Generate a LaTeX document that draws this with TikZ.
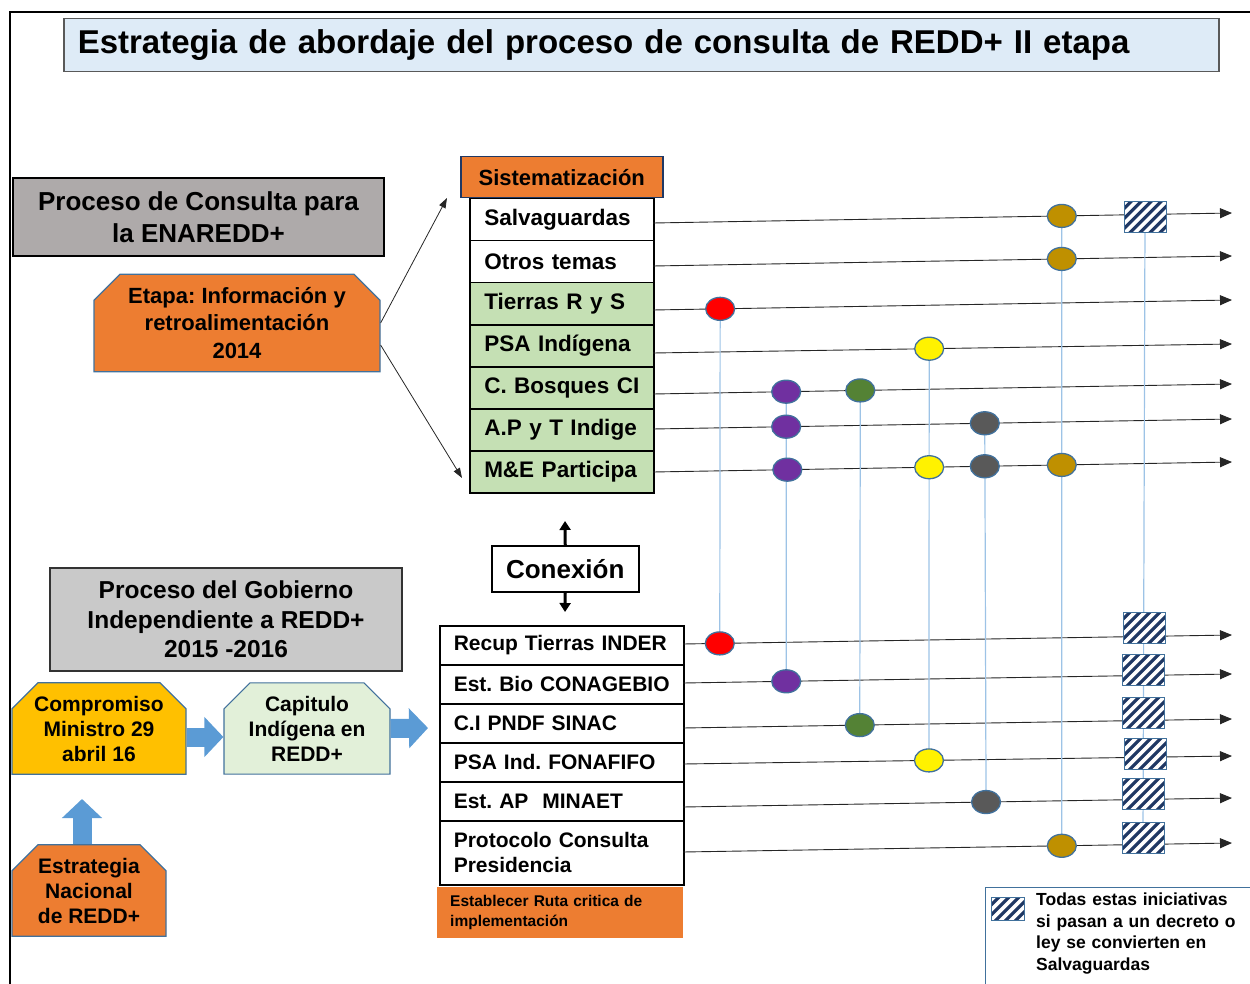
\documentclass[tikz,border=0pt]{standalone}
\usepackage{fontspec}
\setmainfont{Liberation Sans}
\usetikzlibrary{arrows.meta,shapes.geometric,shapes.misc,calc}
\definecolor{orng}{HTML}{ED7D31}
\definecolor{boxblue}{HTML}{41719C}
\definecolor{arrblue}{HTML}{5B9BD5}
\definecolor{vblue}{HTML}{9DC3E6}
\definecolor{navyh}{HTML}{203864}
\definecolor{titlefill}{HTML}{DEEBF7}
\definecolor{grayA}{HTML}{AEAAAA}
\definecolor{grayB}{HTML}{C9C9C9}
\definecolor{greenrow}{HTML}{C5E0B4}
\definecolor{lgreen}{HTML}{E2F0D9}
\definecolor{goldy}{HTML}{FFC000}
\definecolor{dpurple}{HTML}{7030A0}
\definecolor{dgreen}{HTML}{548235}
\definecolor{dgray}{HTML}{595959}
\definecolor{dgold}{HTML}{BF9000}
\frenchspacing
\newcommand\myfs[2]{\fontsize{#1}{#2}\selectfont\bfseries}
\tikzset{
  trow/.style={draw=black, line width=1.5pt, anchor=north west, minimum width=184pt, minimum height=42pt,
    text width=176pt, inner xsep=4pt, inner ysep=0pt, align=left, font={\myfs{22.5}{26}},
    execute at begin node={\hspace*{10.5pt}}},
  brow/.style={draw=black, line width=1.5pt, fill=white, anchor=north west, minimum width=244pt, minimum height=39pt,
    text width=216pt, inner xsep=14pt, inner ysep=0pt, align=left, font={\myfs{21}{25}}},
  snip/.style={chamfered rectangle, chamfered rectangle corners={north west,north east},
    chamfered rectangle xsep=13pt, chamfered rectangle ysep=13pt, draw=boxblue, line width=1.2pt,
    anchor=center, inner sep=0pt, align=center},
  hline/.style={draw=black!85, line width=0.9pt, -{Triangle[length=12pt,width=10pt]}},
  vline/.style={draw=vblue, line width=1.2pt},
  dot/.style={ellipse, draw=boxblue, line width=1.3pt, minimum width=29pt, minimum height=23pt, inner sep=0pt},
  hatch/.style={draw=boxblue, line width=1pt, fill=white, minimum width=42pt, minimum height=31pt, inner sep=0pt,
    path picture={\foreach \k in {-5,...,5}
      \draw[navyh, line width=3.2pt] ($(path picture bounding box.center)+(\k*10-25,25)$) -- ++(50,-50);}},
  barrow/.style={draw=arrblue, line width=19pt, -{Triangle[length=19pt,width=39pt]}},
  carrow/.style={draw=black, line width=3pt, -{Triangle[length=9pt,width=11pt]}},
  tarrow/.style={draw=black!85, line width=0.8pt, -{Triangle[length=10pt,width=7pt]}},
}
\begin{document}
\begin{tikzpicture}[x=1pt,y=-1pt]
\useasboundingbox (0,0) rectangle (1250,984);
% frame
\draw[line width=2pt] (10,984) -- (10,12) -- (1250,12);
% title
\node[draw=dgray, line width=1.5pt, fill=titlefill, anchor=north west, minimum width=1155pt, minimum height=53pt,
  text width=1127pt, inner xsep=14pt, align=left, font={\myfs{33}{37}}] (title) at (63,18)
  {Estrategia de abordaje del proceso de consulta de REDD+ II etapa};
% left upper
\node[draw=black, line width=2pt, fill=grayA, anchor=north west, minimum width=371pt, minimum height=78pt,
  inner sep=0pt, align=center, font={\myfs{26}{32}}] (pcons) at (12,177) {Proceso de Consulta para\\la ENAREDD+};
\node[snip, fill=orng, minimum width=286pt, minimum height=96pt, font={\myfs{22}{27.5}}] (etapa) at (237,323)
  {Etapa: Información y\\retroalimentación\\2014};
% sistematizacion
\node[draw=navyh, line width=1.5pt, fill=orng, anchor=north west, minimum width=202pt, minimum height=41pt,
  inner sep=0pt, font={\myfs{22}{26}}] (sist) at (460,156) {Sistematización};
\node[trow, fill=white] (r1) at (469,198) {Salvaguardas};
\node[trow, fill=white] (r2) at (469,240) {Otros temas};
\node[trow, fill=greenrow] (r3) at (469,282) {Tierras R y S};
\node[trow, fill=greenrow] (r4) at (469,324) {PSA Indígena};
\node[trow, fill=greenrow] (r5) at (469,366) {C. Bosques CI};
\node[trow, fill=greenrow] (r6) at (469,408) {A.P y T Indige};
\node[trow, fill=greenrow] (r7) at (469,450) {M\&E Participa};
% etapa arrows
\coordinate (ea1) at (447,198);
\coordinate (ea2) at (462,478);
\draw[tarrow] (etapa.east) -- (ea1);
\draw[tarrow] ([yshift=-22pt]etapa.east) -- (ea2);
% conexion
\node[draw=black, line width=1.5pt, fill=white, anchor=north west, minimum width=147pt, minimum height=46pt,
  inner sep=0pt, font={\myfs{26}{30}}] (conex) at (491,545) {Conexión};
\coordinate (cup) at (565,521);
\coordinate (cdn) at (565,612);
\draw[carrow] (conex.north) -- (cup);
\draw[carrow] (conex.south) -- (cdn);
% bottom rows
\node[brow] (b1) at (439,625) {Recup Tierras INDER};
\node[brow] (b2) at (439,664) {Est. Bio CONAGEBIO};
\node[brow] (b3) at (439,703) {C.I PNDF SINAC};
\node[brow] (b4) at (439,742) {PSA Ind. FONAFIFO};
\node[brow] (b5) at (439,781) {Est. AP\ \ MINAET};
\node[brow, minimum height=64pt] (b6) at (439,820) {Protocolo Consulta\\Presidencia};
\node[fill=orng, anchor=north west, minimum width=246pt, minimum height=51pt, text width=220pt, inner xsep=13pt,
  inner ysep=0pt, align=left, font={\myfs{15.5}{20}}] (ruta) at (437,887) {Establecer Ruta critica de\\implementación};
% lower left
\node[draw=black!80, line width=2pt, fill=grayB, anchor=north west, minimum width=352pt, minimum height=103pt,
  inner sep=0pt, align=center, font={\myfs{24.5}{29.5}}] (pgob) at (49,567)
  {Proceso del Gobierno\\Independiente a REDD+\\2015 -2016};
\node[snip, fill=goldy, minimum width=174pt, minimum height=89pt, font={\myfs{21}{25}}] (comp) at (99,728.5)
  {Compromiso\\Ministro 29\\abril 16};
\node[snip, fill=lgreen, minimum width=166pt, minimum height=89pt, font={\myfs{21}{25}}] (cap) at (307,728.5)
  {Capitulo\\Indígena en\\REDD+};
\node[snip, fill=orng, minimum width=154pt, minimum height=89pt, font={\myfs{21}{25}}] (estr) at (89,890.5)
  {Estrategia\\Nacional\\de REDD+};
\coordinate (capend) at (428,728);
\coordinate (uptip) at (82,799);
\draw[barrow] ([yshift=-8.5pt]comp.east) -- ([yshift=-8.5pt]cap.west);
\draw[barrow] (cap.east) -- (capend);
\draw[barrow] ([xshift=-7pt]estr.north) -- (uptip);
% horizontal lines, top
\coordinate (s1) at (653,223); \coordinate (e1) at (1232,213);
\coordinate (s2) at (653,266); \coordinate (e2) at (1232,256);
\coordinate (s3) at (653,310); \coordinate (e3) at (1232,300);
\coordinate (s4) at (653,353); \coordinate (e4) at (1232,344);
\coordinate (s5) at (653,394); \coordinate (e5) at (1232,384);
\coordinate (s6) at (653,429); \coordinate (e6) at (1232,419);
\coordinate (s7) at (653,472); \coordinate (e7) at (1232,462);
\draw[hline] (s1) -- (e1) coordinate[pos=.706] (c1g);
\draw[hline] (s2) -- (e2) coordinate[pos=.706] (c2g);
\draw[hline] (s3) -- (e3) coordinate[pos=.116] (c3r);
\draw[hline] (s4) -- (e4) coordinate[pos=.477] (c4y);
\draw[hline] (s5) -- (e5) coordinate[pos=.230] (c5p) coordinate[pos=.358] (c5g);
\draw[hline] (s6) -- (e6) coordinate[pos=.230] (c6p) coordinate[pos=.573] (c6k);
\draw[hline] (s7) -- (e7) coordinate[pos=.232] (c7p) coordinate[pos=.477] (c7y) coordinate[pos=.573] (c7k) coordinate[pos=.706] (c7g);
% horizontal lines, bottom
\coordinate (t1) at (683,644); \coordinate (f1) at (1232,635);
\coordinate (t2) at (683,683); \coordinate (f2) at (1232,674);
\coordinate (t3) at (683,728); \coordinate (f3) at (1232,719);
\coordinate (t4) at (683,764); \coordinate (f4) at (1232,756);
\coordinate (t5) at (683,807); \coordinate (f5) at (1232,798);
\coordinate (t6) at (683,852); \coordinate (f6) at (1232,843);
\draw[hline] (t1) -- (f1) coordinate[pos=.067] (g1r);
\draw[hline] (t2) -- (f2) coordinate[pos=.188] (g2p);
\draw[hline] (t3) -- (f3) coordinate[pos=.322] (g3g);
\draw[hline] (t4) -- (f4) coordinate[pos=.448] (g4y);
\draw[hline] (t5) -- (f5) coordinate[pos=.552] (g5k);
\draw[hline] (t6) -- (f6) coordinate[pos=.690] (g6g);
% hatch positions
\coordinate (h0) at (1145,217.5);
\coordinate (h1) at (1144,628);
\coordinate (h2) at (1143,670);
\coordinate (h3) at (1143,713);
\coordinate (h4) at (1145,754);
\coordinate (h5) at (1143,794);
\coordinate (h6) at (1143,838);
% vertical lines
\draw[vline] (c3r) -- (g1r);
\draw[vline] (c5p) -- (g2p);
\draw[vline] (c5g) -- (g3g);
\draw[vline] (c4y) -- (g4y);
\draw[vline] (c6k) -- (g5k);
\draw[vline] (c1g) -- (g6g);
\draw[vline] (h0) -- (h6);
% dots
\node[dot, fill=dgold] (d1g) at (c1g) {};
\node[dot, fill=dgold] (d2g) at (c2g) {};
\node[dot, fill=red] (d3r) at (c3r) {};
\node[dot, fill=yellow] (d4y) at (c4y) {};
\node[dot, fill=dpurple] (d5p) at (c5p) {};
\node[dot, fill=dgreen] (d5g) at (c5g) {};
\node[dot, fill=dpurple] (d6p) at (c6p) {};
\node[dot, fill=dgray] (d6k) at (c6k) {};
\node[dot, fill=dpurple] (d7p) at (c7p) {};
\node[dot, fill=yellow] (d7y) at (c7y) {};
\node[dot, fill=dgray] (d7k) at (c7k) {};
\node[dot, fill=dgold] (d7g) at (c7g) {};
\node[dot, fill=red] (e1r) at (g1r) {};
\node[dot, fill=dpurple] (e2p) at (g2p) {};
\node[dot, fill=dgreen] (e3g) at (g3g) {};
\node[dot, fill=yellow] (e4y) at (g4y) {};
\node[dot, fill=dgray] (e5k) at (g5k) {};
\node[dot, fill=dgold] (e6g) at (g6g) {};
% hatches
\node[hatch] (hh0) at (h0) {};
\node[hatch] (hh1) at (h1) {};
\node[hatch] (hh2) at (h2) {};
\node[hatch] (hh3) at (h3) {};
\node[hatch] (hh4) at (h4) {};
\node[hatch] (hh5) at (h5) {};
\node[hatch] (hh6) at (h6) {};
% legend
\node[draw=boxblue, line width=1.2pt, fill=white, anchor=north west, minimum width=280pt, minimum height=110pt] (leg) at (985,887) {};
\node[hatch, minimum width=33pt, minimum height=23pt] (lh) at (1007.5,908.5) {};
\node[anchor=north west, text width=214pt, inner sep=0pt, align=left, font={\myfs{17.5}{21.5}}] (legt) at (1036,893)
  {Todas estas iniciativas\\si pasan a un decreto o\\ley se convierten en\\Salvaguardas};
\end{tikzpicture}
\end{document}
